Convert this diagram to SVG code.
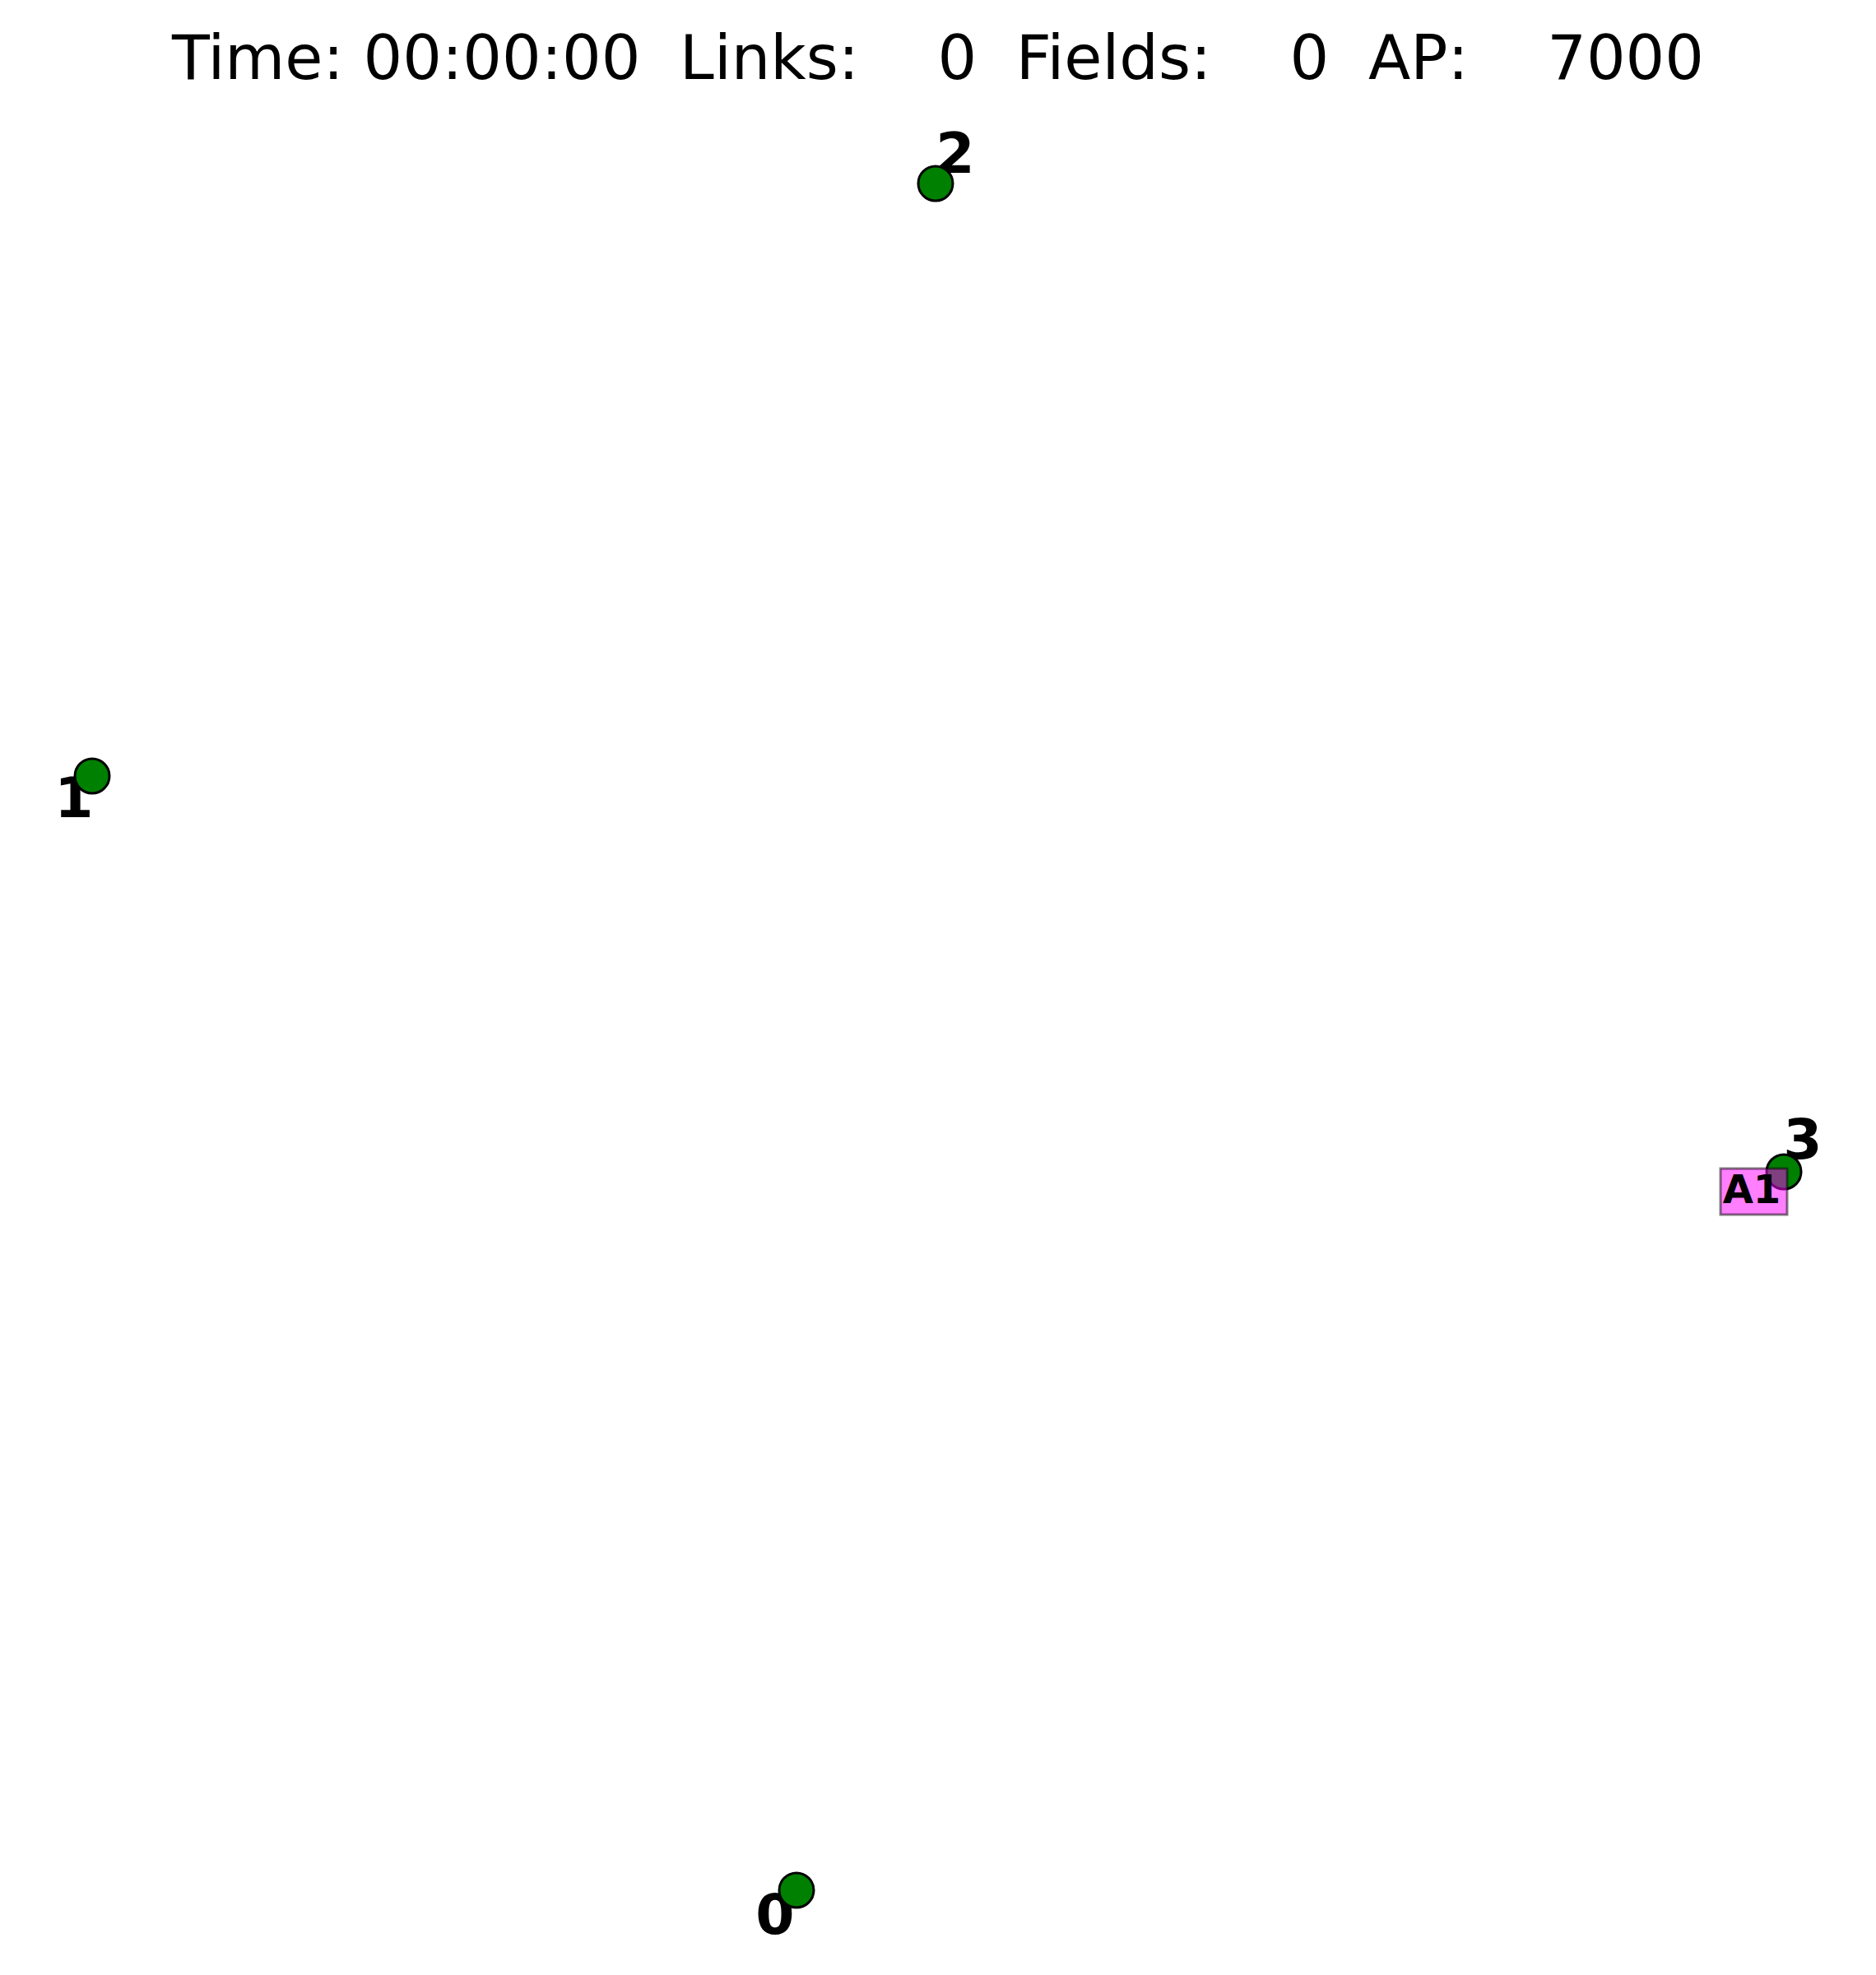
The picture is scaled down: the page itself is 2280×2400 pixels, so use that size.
<svg xmlns="http://www.w3.org/2000/svg" width="2280" height="2400" viewBox="0 0 2280 2400">
<style>
.title{font-family:"DejaVu Sans",sans-serif;font-size:75px;fill:#000}
.lbl{font-family:"DejaVu Sans",sans-serif;font-weight:bold;font-size:68px;fill:#000;text-anchor:middle}
.node{fill:#008000;stroke:#000;stroke-width:3}
.agent{fill:#ff00ff;fill-opacity:0.5;stroke:#000;stroke-opacity:0.5;stroke-width:3}
.agentlbl{font-family:"DejaVu Sans",sans-serif;font-weight:bold;font-size:48px;fill:#000;text-anchor:middle}
</style>
<rect width="2280" height="2400" fill="#fff"/>
<text class="title" x="1140" y="96" text-anchor="middle" xml:space="preserve">Time: 00:00:00  Links:    0  Fields:    0  AP:    7000</text>
<g id="labels">
<text class="lbl" x="1161" y="210">2</text>
<text class="lbl" x="90" y="993">1</text>
<text class="lbl" x="2191" y="1408">3</text>
<text class="lbl" x="942" y="2350">0</text>
</g>
<g id="connectors"></g>
<g id="node0"><circle class="node" cx="968" cy="2297" r="21"/></g>
<g id="node1"><circle class="node" cx="112" cy="943" r="21"/></g>
<g id="node2"><circle class="node" cx="1137" cy="223" r="21"/></g>
<g id="node3"><circle class="node" cx="2168" cy="1424" r="21"/></g>
<g id="agentA1">
<rect class="agent" x="2091" y="1420" width="81" height="56"/>
<text class="agentlbl" x="2129" y="1462">A1</text>
</g>
</svg>
